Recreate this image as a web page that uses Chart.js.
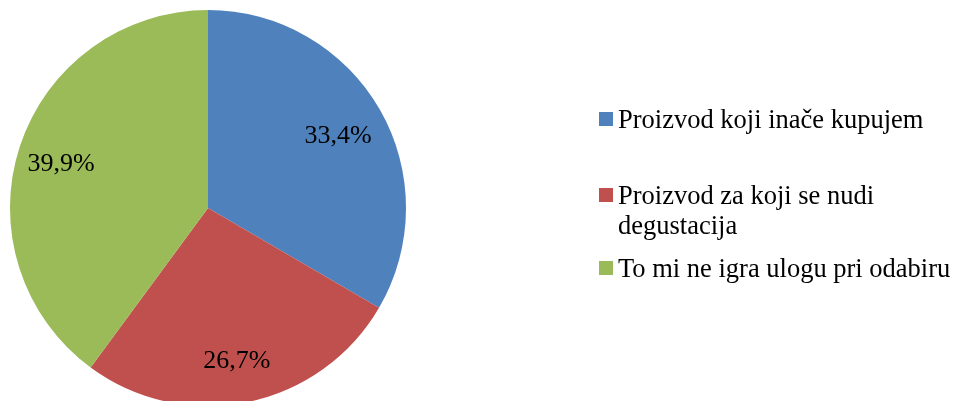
<!DOCTYPE html>
<html><head><meta charset="utf-8">
<script src="https://cdn.jsdelivr.net/npm/chart.js@4/dist/chart.umd.min.js"></script>
<style>html,body{margin:0;padding:0;background:#fff;overflow:hidden;width:957px;height:401px}</style>
</head><body>
<canvas id="c" width="957" height="420" style="display:block"></canvas>
<script>
const categories = ["Proizvod koji inače kupujem", "Proizvod za koji se nudi degustacija", "To mi ne igra ulogu pri odabiru"];
const values = [33.4, 26.7, 39.9];
const valueLabels = ["33,4%", "26,7%", "39,9%"];
const colors = ["#4F81BD", "#C0504D", "#9BBB59"];

const FONT = '"Liberation Serif", "Times New Roman", serif';

const labelPlugin = {
  id: 'sliceLabels',
  afterDatasetsDraw(chart) {
    const ctx = chart.ctx;
    const meta = chart.getDatasetMeta(0);
    ctx.save();
    ctx.font = '26px ' + FONT;
    ctx.fillStyle = '#000';
    ctx.textAlign = 'center';
    ctx.textBaseline = 'middle';
    meta.data.forEach((arc, i) => {
      const p = arc.getProps(['x','y','startAngle','endAngle','outerRadius'], true);
      const a = (p.startAngle + p.endAngle) / 2;
      const r = p.outerRadius * 0.77;
      ctx.fillText(valueLabels[i], p.x + Math.cos(a) * r - 2, p.y + Math.sin(a) * r + 4);
    });
    ctx.restore();
  }
};

const legendPlugin = {
  id: 'sideLegend',
  afterDraw(chart) {
    const ctx = chart.ctx;
    const startX = 599, textX = 618, maxW = 338, lineH = 30;
    const itemY = [119, 195, 268];
    ctx.save();
    ctx.font = '26.5px ' + FONT;
    ctx.textBaseline = 'middle';
    ctx.textAlign = 'left';
    categories.forEach((txt, i) => {
      const words = txt.split(' ');
      const lines = [];
      let cur = '';
      words.forEach(w => {
        const t = cur ? cur + ' ' + w : w;
        if (ctx.measureText(t).width > maxW && cur) { lines.push(cur); cur = w; }
        else cur = t;
      });
      lines.push(cur);
      const y0 = itemY[i];
      ctx.fillStyle = colors[i];
      ctx.fillRect(startX, y0 - 7, 14, 14);
      ctx.fillStyle = '#000';
      lines.forEach((l, k) => ctx.fillText(l, textX, y0 + 2 + k * lineH));
    });
    ctx.restore();
  }
};

new Chart(document.getElementById('c'), {
  type: 'pie',
  data: {
    labels: categories,
    datasets: [{
      data: values,
      backgroundColor: colors,
      borderWidth: 0
    }]
  },
  options: {
    responsive: false,
    animation: false,
    layout: { padding: { left: 10, right: 551, top: 10, bottom: 14 } },
    plugins: { legend: { display: false }, tooltip: { enabled: false } }
  },
  plugins: [labelPlugin, legendPlugin]
});
</script>
</body></html>
